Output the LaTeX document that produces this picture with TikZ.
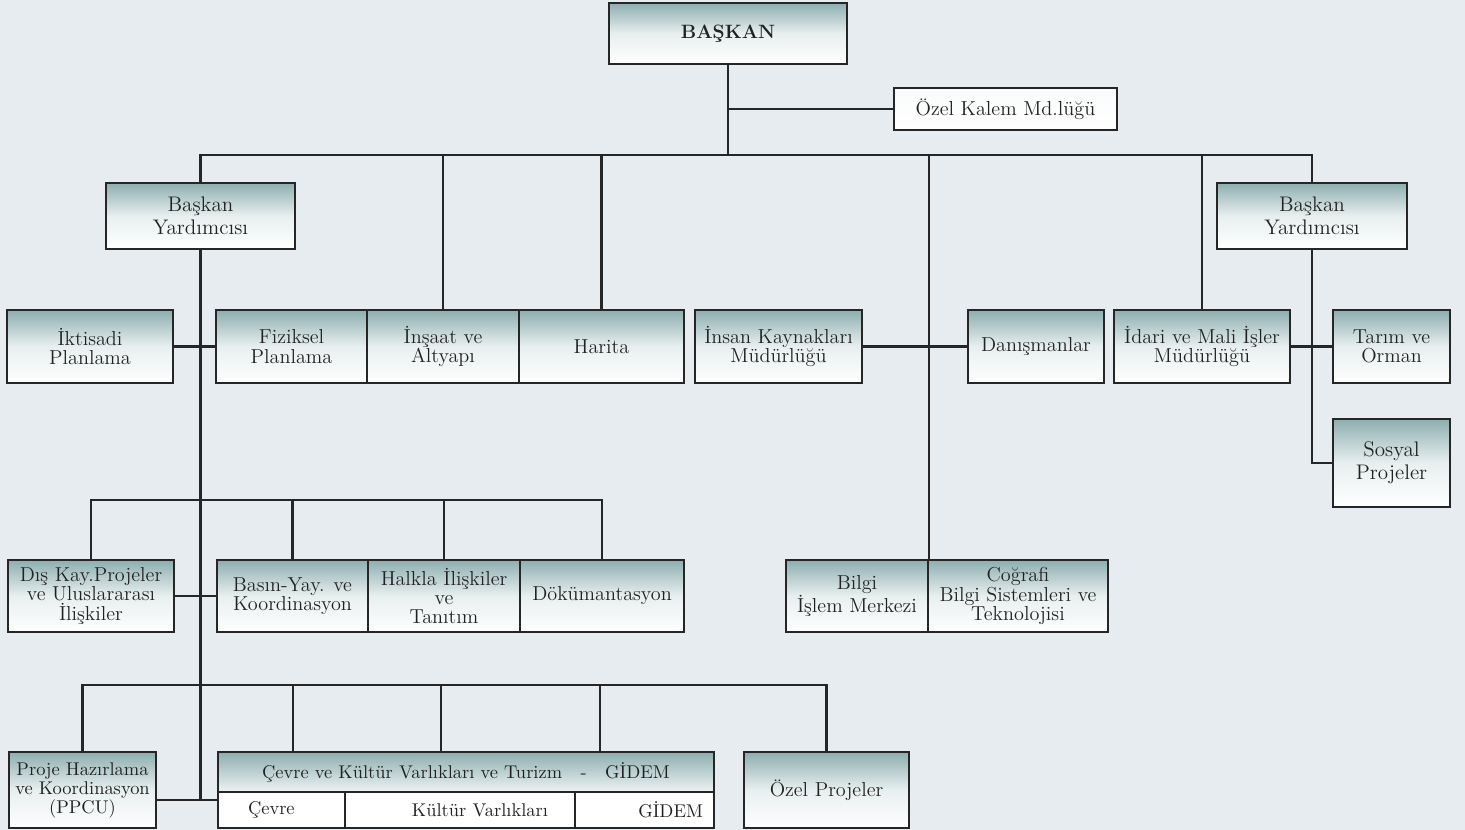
\documentclass[tikz,border=0pt]{standalone}
\usepackage{fontspec}
\definecolor{bgcol}{HTML}{E6ECF0}
\definecolor{boxtop}{HTML}{8DAEB0}
\definecolor{linecol}{HTML}{262626}
\definecolor{txtcol}{HTML}{222222}
\tikzset{
  orgbox/.style={draw=linecol, line width=1.2pt, top color=boxtop, bottom color=white,
    middle color=boxtop!20!white, text=txtcol, align=center, inner sep=1.5pt,
    font=\fontsize{11.5}{11}\selectfont},
  bigbox/.style={orgbox, font=\fontsize{12}{13}\selectfont},
  subcell/.style={draw=linecol, line width=1.2pt, fill=white, text=txtcol, inner ysep=0pt,
    minimum height=0.72cm, font=\fontsize{10.5}{11}\selectfont},
  conn/.style={draw=linecol, line width=1.2pt}
}
\begin{document}
\begin{tikzpicture}[x=0.02cm,y=-0.02cm]
\useasboundingbox (0,0) rectangle (1465,830);
\fill[bgcol] (0,0) rectangle (1465,830);
% top
\node[orgbox, minimum width=4.76cm, minimum height=1.22cm, font=\fontsize{11}{11}\selectfont\bfseries] (baskan) at (728,33.5) {BAŞKAN};
\node[orgbox, minimum width=4.46cm, minimum height=0.84cm, top color=white!95!boxtop] (ozelkalem) at (1005.5,109) {Özel Kalem Md.lüğü};
\node[bigbox, minimum width=3.78cm, minimum height=1.32cm] (byl) at (200.5,216) {Başkan\\Yardımcısı};
\node[bigbox, minimum width=3.8cm, minimum height=1.32cm] (byr) at (1312,216) {Başkan\\Yardımcısı};
% second row
\node[orgbox, minimum width=3.32cm, minimum height=1.46cm] (iktisadi) at (90,346.5) {İktisadi\\Planlama};
\node[orgbox, minimum width=3.02cm, minimum height=1.46cm] (fiziksel) at (291.5,346.5) {Fiziksel\\Planlama};
\node[orgbox, minimum width=3.04cm, minimum height=1.46cm] (insaat) at (443,346.5) {İnşaat ve\\Altyapı};
\node[orgbox, minimum width=3.3cm, minimum height=1.46cm] (harita) at (601.5,346.5) {Harita};
\node[orgbox, minimum width=3.34cm, minimum height=1.46cm] (insan) at (778.5,346.5) {İnsan Kaynakları\\Müdürlüğü};
\node[orgbox, minimum width=2.72cm, minimum height=1.46cm] (danisman) at (1036,346.5) {Danışmanlar};
\node[orgbox, minimum width=3.52cm, minimum height=1.46cm] (idari) at (1202,346.5) {İdari ve Mali İşler\\Müdürlüğü};
\node[orgbox, minimum width=2.34cm, minimum height=1.46cm] (tarim) at (1391.5,346.5) {Tarım ve\\Orman};
\node[bigbox, minimum width=2.34cm, minimum height=1.76cm] (sosyal) at (1391.5,463) {Sosyal\\Projeler};
% third row
\node[orgbox, minimum width=3.32cm, minimum height=1.44cm] (dis) at (91,596) {Dış Kay.Projeler\\ve Uluslararası\\İlişkiler};
\node[orgbox, minimum width=3.02cm, minimum height=1.44cm] (basin) at (292.5,596) {Basın-Yay. ve\\Koordinasyon};
\node[orgbox, minimum width=3.04cm, minimum height=1.44cm] (halkla) at (444,596) {Halkla İlişkiler\\ve\\Tanıtım};
\node[orgbox, minimum width=3.28cm, minimum height=1.44cm] (dokuman) at (602,596) {Dökümantasyon};
\node[orgbox, minimum width=2.84cm, minimum height=1.44cm] (bilgi) at (857,596) {Bilgi\\İşlem Merkezi};
\node[orgbox, minimum width=3.6cm, minimum height=1.44cm] (cografi) at (1018,596) {Coğrafi\\Bilgi Sistemleri ve\\Teknolojisi};
% fourth row
\node[orgbox, minimum width=2.94cm, minimum height=1.52cm, font=\fontsize{10.5}{10.8}\selectfont] (proje) at (82.5,790) {Proje Hazırlama\\ve Koordinasyon\\(PPCU)};
\node[orgbox, minimum width=9.92cm, minimum height=0.8cm, bottom color=white!85!boxtop, font=\fontsize{10.5}{11}\selectfont] (cevrehead) at (466,772) {Çevre ve Kültür Varlıkları ve Turizm\quad-\quad GİDEM};
\node[subcell, inner xsep=0.6cm, text width=1.34cm, align=left] (cevre) at (281.5,810) {Çevre};
\node[subcell, inner xsep=0.54cm, text width=3.52cm, align=right] (kultur) at (460,810) {Kültür Varlıkları};
\node[subcell, inner xsep=0.22cm, text width=2.34cm, align=right] (gidem) at (644.5,810) {GİDEM};
\node[orgbox, minimum width=3.3cm, minimum height=1.52cm] (ozelproje) at (826.5,790) {Özel Projeler};
% connectors
\coordinate (bus1) at (728,155);
\draw[conn] (baskan.south) -- (bus1);
\draw[conn] (baskan.south |- ozelkalem.west) -- (ozelkalem.west);
\draw[conn] (byl.north) |- (bus1) -| (byr.north);
\foreach \n in {insaat,harita,idari}
  \draw[conn] (\n.north) -- (\n.north |- bus1);
\draw[conn] (bilgi.north east) -- (bilgi.north east |- bus1);
\draw[conn] (insan.east) -- (danisman.west);
\draw[conn] (iktisadi.east) -- (fiziksel.west);
\draw[conn] (idari.east) -- (tarim.west);
\draw[conn] (byr.south) |- (sosyal.west);
\coordinate (pc) at ([yshift=-0.2cm]proje.east);
\draw[conn] (byl.south) -- (byl.south |- pc);
\draw[conn] (pc) -- (pc -| cevre.west);
\draw[conn] (dis.east) -- (basin.west);
\draw[conn] (dis.north) |- ([yshift=1.18cm]dokuman.north) -- (dokuman.north);
\foreach \n in {basin,halkla}
  \draw[conn] (\n.north) -- ([yshift=1.18cm]\n.north);
\draw[conn] (proje.north) |- ([yshift=1.32cm]ozelproje.north) -- (ozelproje.north);
\foreach \s in {1.52,4.48,7.66}
  \draw[conn] ([xshift=\s cm]cevrehead.north west) -- ++(0,-66);
\end{tikzpicture}
\end{document}
